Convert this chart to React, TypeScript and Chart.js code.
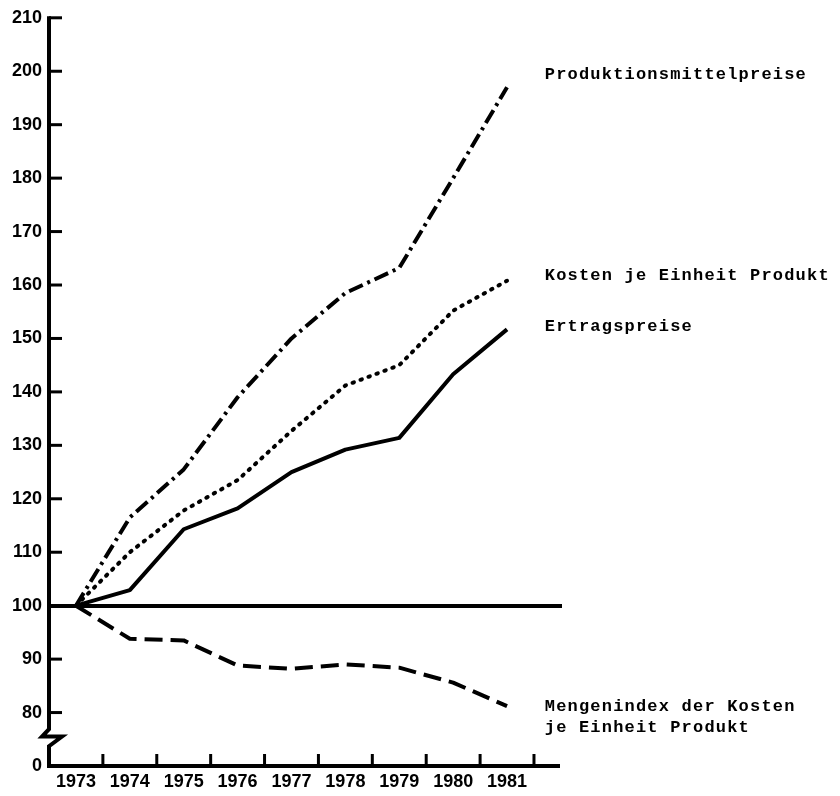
import React, { useEffect, useRef } from "react";
import { Chart, registerables } from "chart.js";

Chart.register(...registerables);

// ---- data ----
const years = [1973, 1974, 1975, 1976, 1977, 1978, 1979, 1980, 1981];
const produktionsmittelpreise = [100, 116.5, 125.5, 139, 150, 158.5, 163.2, 180, 197];
const kostenJeEinheitProdukt = [100, 110, 117.8, 123.5, 132.7, 141.2, 145, 155.2, 160.8];
const ertragspreise = [100, 102.9, 114.3, 118.2, 125, 129.2, 131.4, 143.3, 151.7];
const mengenindexDerKosten = [100, 93.8, 93.5, 88.8, 88.2, 89, 88.4, 85.6, 81.2];
const yTickValues = [70, 80, 90, 100, 110, 120, 130, 140, 150, 160, 170, 180, 190, 200, 210];
const yTickLabels = ["0", "80", "90", "100", "110", "120", "130", "140", "150", "160", "170", "180", "190", "200", "210"];
const seriesNames = [
  ["Produktionsmittelpreise"],
  ["Kosten je Einheit Produkt"],
  ["Ertragspreise"],
  ["Mengenindex der Kosten", "je Einheit Produkt"],
];
const labelAnchorValues = [198.5, 161.0, 151.4, 80.3];
const referenceValue = 100;

const TICK_FONT = { family: "'Liberation Sans', Arial, sans-serif", size: 18, weight: "bold" as const };

const decorPlugin = {
  id: "decor",
  afterDraw(chart: any) {
    const { ctx, chartArea, scales } = chart;
    const xs = scales.x;
    const ys = scales.y;
    const left = chartArea.left;
    const bottom = chartArea.bottom;
    ctx.save();
    ctx.strokeStyle = "#000";
    ctx.lineCap = "butt";
    ctx.lineJoin = "miter";

    // y axis with break
    const yTop = ys.getPixelForValue(210) - 1.5;
    const z1 = ys.getPixelForValue(76.9);
    const z2 = ys.getPixelForValue(75.5);
    const z3 = ys.getPixelForValue(73.7);
    ctx.lineWidth = 4;
    ctx.beginPath();
    ctx.moveTo(left, yTop);
    ctx.lineTo(left, z1);
    ctx.lineTo(left - 7, z2);
    ctx.lineTo(left + 13, z2);
    ctx.lineTo(left, z3);
    ctx.lineTo(left, bottom + 2);
    ctx.stroke();

    // x axis
    ctx.beginPath();
    ctx.moveTo(left - 2, bottom);
    ctx.lineTo(chartArea.right - 2, bottom);
    ctx.stroke();

    // y tick marks (inward)
    ctx.lineWidth = 3;
    yTickValues.forEach((v) => {
      if (v <= 70) return;
      const py = ys.getPixelForValue(v);
      ctx.beginPath();
      ctx.moveTo(left, py);
      ctx.lineTo(left + 13, py);
      ctx.stroke();
    });

    // x tick marks (inward, at category boundaries)
    years.forEach((yr) => {
      const px = xs.getPixelForValue(yr + 0.5);
      ctx.beginPath();
      ctx.moveTo(px, bottom);
      ctx.lineTo(px, bottom - 12);
      ctx.stroke();
    });

    // series labels
    ctx.fillStyle = "#000";
    ctx.font = "bold 17px 'Liberation Mono', 'DejaVu Sans Mono', monospace";
    (ctx as any).letterSpacing = "1.2px";
    ctx.textAlign = "left";
    ctx.textBaseline = "alphabetic";
    const lx = xs.getPixelForValue(1981.7);
    seriesNames.forEach((lines, i) => {
      const base = ys.getPixelForValue(labelAnchorValues[i]);
      lines.forEach((t, j) => {
        ctx.fillText(t, lx, base + j * 21);
      });
    });
    ctx.restore();
  },
};

export default function App() {
  const ref = useRef<HTMLCanvasElement | null>(null);

  useEffect(() => {
    if (!ref.current) return;
    const mk = (data: number[]) => years.map((x, i) => ({ x, y: data[i] }));
    const base = {
      pointRadius: 0,
      borderColor: "#000",
      borderWidth: 4,
      tension: 0,
      fill: false,
      borderJoinStyle: "round" as const,
    };
    const chart = new Chart(ref.current, {
      type: "line",
      data: {
        datasets: [
          { ...base, label: seriesNames[0].join(" "), data: mk(produktionsmittelpreise), borderDash: [15, 5, 3, 5], borderCapStyle: "butt" },
          { ...base, label: seriesNames[1].join(" "), data: mk(kostenJeEinheitProdukt), borderDash: [1.5, 7], borderCapStyle: "round" },
          { ...base, label: seriesNames[2].join(" "), data: mk(ertragspreise), borderCapStyle: "butt" },
          { ...base, label: seriesNames[3].join(" "), data: mk(mengenindexDerKosten), borderDash: [18, 8], borderCapStyle: "butt" },
        ] as any,
      },
      options: {
        animation: false,
        responsive: false,
        layout: { padding: { top: 15, right: 278, bottom: 0, left: 0 } },
        plugins: { legend: { display: false }, tooltip: { enabled: false } },
        scales: {
          x: {
            type: "linear",
            min: 1972.5,
            max: 1982.02,
            afterBuildTicks: (s: any) => {
              s.ticks = years.map((v) => ({ value: v }));
            },
            afterFit: (s: any) => {
              s.height = 30;
            },
            grid: { display: false, drawTicks: false },
            border: { display: false },
            ticks: {
              color: "#000",
              font: TICK_FONT,
              padding: 5,
              maxRotation: 0,
              autoSkip: false,
              callback: (v: any) => String(v),
            },
          },
          y: {
            type: "linear",
            min: 70,
            max: 210,
            afterBuildTicks: (s: any) => {
              s.ticks = yTickValues.map((v) => ({ value: v }));
            },
            afterFit: (s: any) => {
              s.width = 49;
            },
            grid: {
              drawTicks: false,
              color: (c: any) => (c.tick && c.tick.value === referenceValue ? "#000" : "rgba(0,0,0,0)"),
              lineWidth: (c: any) => (c.tick && c.tick.value === referenceValue ? 4 : 0),
            },
            border: { display: false },
            ticks: {
              color: "#000",
              font: TICK_FONT,
              padding: 7,
              autoSkip: false,
              callback: (v: any) => {
                const i = yTickValues.indexOf(Number(v));
                return i >= 0 ? yTickLabels[i] : "";
              },
            },
          },
        },
      },
      plugins: [decorPlugin],
    });
    return () => chart.destroy();
  }, []);

  return (
    <div style={{ position: "absolute", left: 0, top: 0, width: 840, height: 796, background: "#fff" }}>
      <canvas ref={ref} width={840} height={796} style={{ display: "block" }} />
    </div>
  );
}
